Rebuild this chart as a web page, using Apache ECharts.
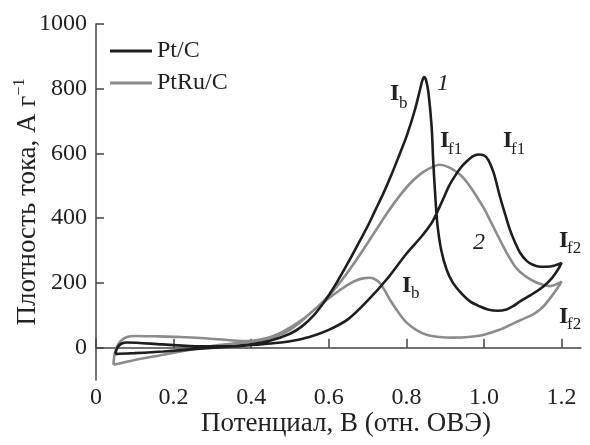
<!DOCTYPE html>
<html><head><meta charset="utf-8">
<script src="https://cdn.jsdelivr.net/npm/echarts@6/dist/echarts.min.js"></script>
<style>html,body{margin:0;padding:0;background:#fff}#c{width:590px;height:445px}</style>
</head><body><div id="c"></div>
<script>
const seriesNames = ['Pt/C', 'PtRu/C'];
const xTicks = [0, 0.2, 0.4, 0.6, 0.8, 1.0, 1.2];
const yTicks = [0, 200, 400, 600, 800, 1000];

// Pt/C loop (forward then backward scan): potential (V), current density (A/g)
const ptcX = [0.050,0.055,0.065,0.080,0.170,0.270,0.350,0.400,0.450,0.500,0.550,0.600,0.650,0.700,0.750,0.800,0.840,0.865,0.880,0.895,0.910,0.925,0.940,0.955,0.970,0.985,1.000,1.011,1.025,1.041,1.055,1.067,1.080,1.093,1.110,1.126,1.145,1.162,1.180,1.200,
  1.190,1.175,1.153,1.120,1.093,1.075,1.058,1.035,1.010,0.990,0.965,0.940,0.920,0.904,0.890,0.880,0.874,0.869,0.865,0.857,0.851,0.846,0.841,0.835,0.822,0.801,0.780,0.760,0.740,0.720,0.700,0.680,0.660,0.640,0.620,0.600,0.580,0.560,0.530,0.500,0.450,0.400,0.330,0.268,0.173,0.100,0.060,0.050];
const ptcY = [-20,0,12,16,10,4,4,8,13,20,33,55,88,145,212,290,345,385,420,460,500,530,556,575,590,597,594,580,540,467,410,364,325,293,268,256,250,250,253,262,
  240,215,189,162,143,128,118,114,118,127,142,170,200,240,300,380,477,580,683,786,825,836,825,797,735,655,590,530,475,425,375,330,285,242,200,162,128,98,65,43,22,10,2,-3,-12,-17,-19,-20];

// PtRu/C loop
const ptruX = [0.045,0.048,0.055,0.065,0.080,0.100,0.150,0.216,0.280,0.345,0.388,0.420,0.450,0.483,0.530,0.570,0.600,0.630,0.660,0.690,0.720,0.750,0.780,0.810,0.840,0.865,0.885,0.910,0.938,0.960,0.981,1.000,1.015,1.033,1.050,1.067,1.084,1.105,1.127,1.150,1.170,1.185,1.200,
  1.190,1.175,1.153,1.130,1.100,1.076,1.040,1.000,0.960,0.921,0.885,0.852,0.825,0.800,0.780,0.758,0.745,0.732,0.718,0.704,0.688,0.672,0.650,0.629,0.595,0.560,0.530,0.500,0.470,0.440,0.400,0.350,0.302,0.250,0.173,0.100,0.060,0.045];
const ptruY = [-53,-20,5,22,33,36,35,33,29,23,20,24,33,50,85,125,160,203,252,305,360,415,465,508,540,557,565,557,535,505,467,430,395,352,312,275,245,222,206,195,190,195,204,
  185,160,127,105,88,75,55,40,33,31,33,40,55,78,108,147,175,199,212,216,214,208,195,178,148,115,82,55,38,27,18,12,6,-5,-22,-38,-49,-53];

const zip = (xs, ys) => xs.map((x, i) => [x, ys[i]]);
const serif = '"Times New Roman", Times, "Liberation Serif", serif';

const chart = echarts.init(document.getElementById('c'));

function ann(text, x, baseline, size, opts) {
  opts = opts || {};
  return {
    type: 'text', left: x, top: baseline - size * 0.9, silent: true,
    style: {
      text: text, fill: '#222', fontFamily: serif, fontSize: size,
      fontWeight: opts.bold ? 'bold' : 'normal', fontStyle: opts.italic ? 'italic' : 'normal'
    }
  };
}

const labels = [
  ann('I', 390, 103, 24, {bold: true}), ann('b', 399, 110, 17),
  ann('1', 437, 93, 24, {italic: true}),
  ann('I', 440, 150, 24, {bold: true}), ann('f1', 448, 156, 17),
  ann('I', 503, 150, 24, {bold: true}), ann('f1', 511, 156, 17),
  ann('2', 473, 252, 24, {italic: true}),
  ann('I', 559, 250, 24, {bold: true}), ann('f2', 567, 255, 17),
  ann('I', 559, 326, 24, {bold: true}), ann('f2', 567, 331, 17),
  ann('I', 402, 295, 24, {bold: true}), ann('b', 411, 300, 17),
  {type: 'text', x: 346, y: 410, silent: true,
   style: {text: 'Потенциал, В (отн. ОВЭ)', fill: '#222', fontFamily: serif, fontSize: 27,
           align: 'center', verticalAlign: 'top'}}
];

chart.setOption({
  animation: false,
  backgroundColor: '#fff',
  grid: {left: 96, right: 9, top: 24, bottom: 65, containLabel: false, outerBoundsMode: 'none'},
  legend: {
    orient: 'vertical', left: 105, top: 34, itemWidth: 42, itemHeight: 3, itemGap: 8, icon: 'rect',
    textStyle: {fontFamily: serif, fontSize: 24, color: '#222', padding: [2, 0, 0, 0]},
    data: seriesNames
  },
  xAxis: {
    type: 'value', min: 0, max: 1.25,
    axisLine: {lineStyle: {color: '#444', width: 1.5}},
    axisTick: {inside: true, length: 9, lineStyle: {color: '#444', width: 1.5}, customValues: xTicks},
    axisLabel: {fontFamily: serif, fontSize: 24, color: '#222', margin: 6, customValues: xTicks,
      formatter: v => (v === 0 ? '0' : v.toFixed(1))},
    splitLine: {show: false}
  },
  yAxis: {
    type: 'value', min: -100, max: 1000,
    name: 'Плотность тока, А г{sup|−1}', nameLocation: 'middle', nameGap: 53, nameMoveOverlap: false,
    nameTextStyle: {fontFamily: serif, fontSize: 27, color: '#222',
      rich: {sup: {fontFamily: serif, fontSize: 16, color: '#222', padding: [0, 0, 15, 0]}}},
    axisLine: {show: true, lineStyle: {color: '#444', width: 1.5}},
    axisTick: {show: true, inside: true, length: 8, lineStyle: {color: '#444', width: 1.5}, customValues: yTicks},
    axisLabel: {fontFamily: serif, fontSize: 24, color: '#222', margin: 9, customValues: yTicks,
      formatter: v => String(v)},
    splitLine: {show: false}
  },
  series: [
    {name: seriesNames[0], type: 'line', data: zip(ptcX, ptcY), symbol: 'none', smooth: 0.3,
     lineStyle: {color: '#1e1e1e', width: 2.6}, itemStyle: {color: '#1e1e1e'}, z: 3},
    {name: seriesNames[1], type: 'line', data: zip(ptruX, ptruY), symbol: 'none', smooth: 0.3,
     lineStyle: {color: '#8c8c8c', width: 2.6}, itemStyle: {color: '#8c8c8c'}, z: 2}
  ],
  graphic: labels
});
</script></body></html>
